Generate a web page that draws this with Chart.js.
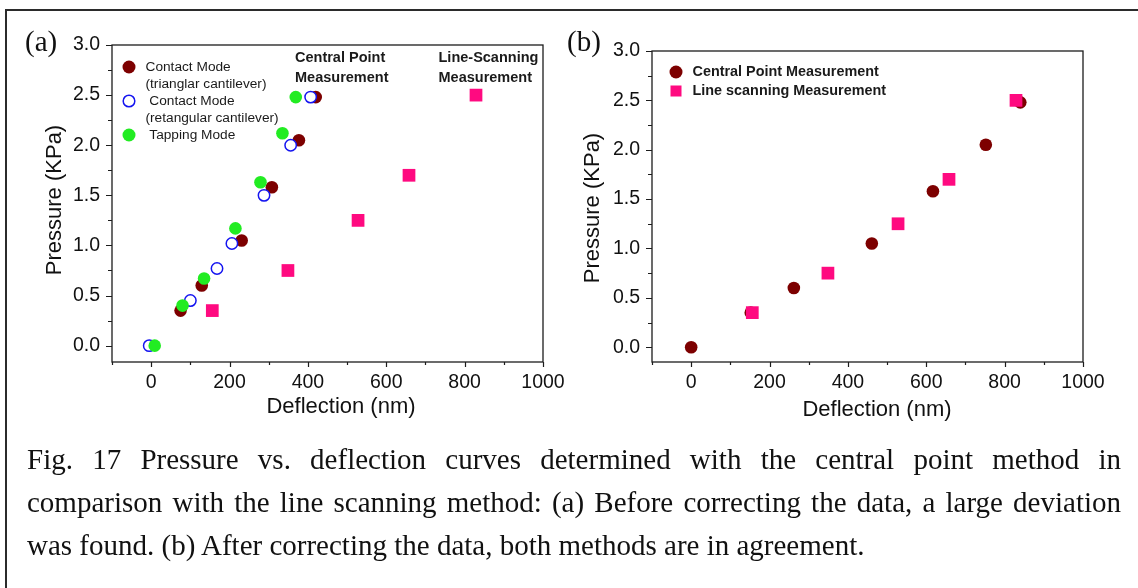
<!DOCTYPE html>
<html>
<head>
<meta charset="utf-8">
<title>Pressure vs. deflection</title>
<script src="https://cdn.jsdelivr.net/npm/chart.js@4.4.1/dist/chart.umd.min.js"></script>
<style>
  html, body { margin: 0; padding: 0; background: #fff; }
  #page { position: relative; width: 1138px; height: 588px; overflow: hidden; background: #fff; }
  #page canvas { position: absolute; left: 0; top: 0; }
  #frame { position: absolute; left: 5px; top: 9px; width: 1160px; height: 620px;
           border-left: 2px solid #2b2b2b; border-top: 2px solid #2b2b2b; }
  #caption { position: absolute; left: 27px; top: 438px; width: 1094px;
             font-family: "Liberation Serif", "Times New Roman", serif;
             font-size: 29px; line-height: 43px; color: #111; }
  #caption .j { text-align: justify; text-align-last: justify; }
</style>
</head>
<body>
<div id="page">
  <div id="frame"></div>
  <canvas id="chartA" width="1138" height="588"></canvas>
  <canvas id="chartB" width="1138" height="588"></canvas>
  <div id="caption">
    <div class="j">Fig. 17 Pressure vs. deflection curves determined with the central point method in</div>
    <div class="j">comparison with the line scanning method: (a) Before correcting the data, a large deviation</div>
    <div>was found. (b) After correcting the data, both methods are in agreement.</div>
  </div>
</div>
<script>
// ---- data: deflection (nm) and pressure (KPa) ----
// (a) before correction
const triangularX = [75, 129, 231, 308, 377, 420];
const triangularY = [0.35, 0.60, 1.05, 1.58, 2.05, 2.48];
const rectangularX = [-5, 100, 168, 206, 288, 356, 407];
const rectangularY = [0.00, 0.45, 0.77, 1.02, 1.50, 2.00, 2.48];
const tappingX = [9, 80, 135, 215, 279, 335, 369];
const tappingY = [0.00, 0.40, 0.67, 1.17, 1.63, 2.12, 2.48];
const lineScanX = [156, 349, 528, 658, 829];
const lineScanY = [0.35, 0.75, 1.25, 1.70, 2.50];
// (b) after correction
const centralX = [0, 152, 262, 461, 617, 752, 840];
const centralY = [0.00, 0.35, 0.60, 1.05, 1.58, 2.05, 2.48];

// ---- axis ticks ----
const xTickValues = [-100, 0, 100, 200, 300, 400, 500, 600, 700, 800, 900, 1000];
const xLabelValues = [0, 200, 400, 600, 800, 1000];
const yTickValues = [0, 0.25, 0.5, 0.75, 1, 1.25, 1.5, 1.75, 2, 2.25, 2.5, 2.75, 3];
const yLabelValues = [0, 0.5, 1, 1.5, 2, 2.5, 3];

// ---- text ----
const xTitle = 'Deflection (nm)';
const yTitle = 'Pressure (KPa)';
const legendA = ['Contact Mode', '(trianglar cantilever)', ' Contact Mode', '(retangular cantilever)', ' Tapping Mode'];
const legendB = ['Central Point Measurement', 'Line scanning Measurement'];
const notesA = ['Central Point', 'Measurement', 'Line-Scanning', 'Measurement'];

const C_DARKRED = '#7d0000';
const C_BLUE = '#1414f0';
const C_GREEN = '#22ec22';
const C_PINK = '#ff0a80';

const SANS = '"Liberation Sans", Arial, sans-serif';
const SERIF = '"Liberation Serif", "Times New Roman", serif';
Chart.defaults.font.family = SANS;

const pts = (xs, ys) => xs.map((x, i) => ({ x: x, y: ys[i] }));
const isXLabel = v => xLabelValues.includes(v);
const isYLabel = v => yLabelValues.some(l => Math.abs(l - v) < 1e-9);

function dot(ctx, x, y, r, fill, stroke, lw) {
  ctx.beginPath();
  ctx.arc(x, y, r, 0, Math.PI * 2);
  ctx.fillStyle = fill;
  ctx.fill();
  if (stroke) { ctx.lineWidth = lw; ctx.strokeStyle = stroke; ctx.stroke(); }
}

// box, tick marks, titles, in-plot legend and notes
const decor = {
  id: 'decor',
  afterDatasetsDraw(chart, args, o) {
    const ctx = chart.ctx, a = chart.chartArea;
    const xs = chart.scales.x, ys = chart.scales.y;
    ctx.save();
    ctx.strokeStyle = '#1c1c1c';
    ctx.lineWidth = 1.3;
    ctx.strokeRect(a.left, a.top, a.right - a.left, a.bottom - a.top);
    ctx.beginPath();
    xTickValues.forEach(v => {
      const px = Math.round(xs.getPixelForValue(v)) + 0.5;
      ctx.moveTo(px, a.bottom);
      ctx.lineTo(px, a.bottom + (isXLabel(v) ? 5 : 3));
    });
    yTickValues.forEach(v => {
      const py = Math.round(ys.getPixelForValue(v)) + 0.5;
      ctx.moveTo(a.left, py);
      ctx.lineTo(a.left - (isYLabel(v) ? 6 : 4), py);
    });
    ctx.lineWidth = 1.2;
    ctx.stroke();

    // axis titles
    ctx.fillStyle = '#111';
    ctx.font = '22px ' + SANS;
    ctx.textAlign = 'center';
    ctx.textBaseline = 'middle';
    ctx.fillText(xTitle, o.xTitle[0], o.xTitle[1]);
    ctx.save();
    ctx.translate(o.yTitle[0], o.yTitle[1]);
    ctx.rotate(-Math.PI / 2);
    ctx.fillText(yTitle, 0, 0);
    ctx.restore();

    // panel letter
    ctx.font = '29px ' + SERIF;
    ctx.textAlign = 'left';
    ctx.fillText(o.letter, o.letterPos[0], o.letterPos[1]);

    if (o.legend) o.legend(ctx);
    ctx.restore();
  }
};

function drawLegendA(ctx) {
  const mx = 129;
  dot(ctx, mx, 67, 6.5, C_DARKRED);
  dot(ctx, mx, 101, 5.8, '#fff', C_BLUE, 1.5);
  dot(ctx, mx, 135, 6.5, C_GREEN);
  ctx.fillStyle = '#1a1a1a';
  ctx.font = '13.7px ' + SANS;
  ctx.textAlign = 'left';
  ctx.textBaseline = 'middle';
  const ys = [67, 84, 101, 118, 135];
  legendA.forEach((t, i) => ctx.fillText(t, 145.5, ys[i]));
  ctx.font = 'bold 14.5px ' + SANS;
  ctx.fillText(notesA[0], 295, 57.5);
  ctx.fillText(notesA[1], 295, 77.5);
  ctx.fillText(notesA[2], 438.5, 57.5);
  ctx.fillText(notesA[3], 438.5, 77.5);
}

function drawLegendB(ctx) {
  const mx = 676;
  dot(ctx, mx, 72, 6.5, C_DARKRED);
  ctx.fillStyle = C_PINK;
  ctx.fillRect(mx - 5.5, 91 - 5.5, 11, 11);
  ctx.fillStyle = '#1a1a1a';
  ctx.font = 'bold 14.4px ' + SANS;
  ctx.textAlign = 'left';
  ctx.textBaseline = 'middle';
  ctx.fillText(legendB[0], 692.5, 72.5);
  ctx.fillText(legendB[1], 692.5, 91.5);
}

function scales(yMin, yWidth) {
  return {
    x: {
      type: 'linear', min: -100, max: 1000,
      grid: { display: false, drawTicks: false },
      border: { display: false },
      afterBuildTicks: s => { s.ticks = xTickValues.map(v => ({ value: v })); },
      afterFit: s => { s.height = 40; },
      ticks: {
        autoSkip: false, maxRotation: 0, padding: 9,
        color: '#111', font: { size: 19.5, family: SANS },
        callback: v => (isXLabel(v) ? String(v) : '')
      }
    },
    y: {
      type: 'linear', min: yMin, max: 3,
      grid: { display: false, drawTicks: false },
      border: { display: false },
      afterBuildTicks: s => { s.ticks = yTickValues.map(v => ({ value: v })); },
      afterFit: s => { s.width = yWidth; },
      ticks: {
        autoSkip: false, padding: 12,
        color: '#111', font: { size: 19.5, family: SANS },
        callback: v => (isYLabel(v) ? v.toFixed(1) : '')
      }
    }
  };
}

const circleSet = (label, data, fill, stroke, bw, r) => ({
  label, data, showLine: false, pointStyle: 'circle',
  pointRadius: r, pointBackgroundColor: fill,
  pointBorderColor: stroke, pointBorderWidth: bw, clip: false
});
const squareSet = (label, data) => ({
  label, data, showLine: false, pointStyle: 'rect',
  pointRadius: 9, pointBackgroundColor: C_PINK,
  pointBorderColor: C_PINK, pointBorderWidth: 0, clip: false
});

// (a) before correction; earlier datasets are painted on top
new Chart(document.getElementById('chartA'), {
  type: 'scatter',
  data: {
    datasets: [
      squareSet('Line-Scanning Measurement', pts(lineScanX, lineScanY)),
      circleSet('Tapping Mode', pts(tappingX, tappingY), C_GREEN, C_GREEN, 0, 6.3),
      circleSet('Contact Mode (retangular cantilever)', pts(rectangularX, rectangularY), '#fff', C_BLUE, 1.5, 5.7),
      circleSet('Contact Mode (trianglar cantilever)', pts(triangularX, triangularY), C_DARKRED, C_DARKRED, 0, 6.3)
    ]
  },
  options: {
    responsive: false, animation: false, events: [],
    layout: { padding: { left: 0, top: 45, right: 595, bottom: 186 } },
    scales: scales(-0.163, 112),
    plugins: {
      legend: { display: false }, tooltip: { enabled: false },
      decor: { xTitle: [341, 407], yTitle: [55, 200], letter: '(a)', letterPos: [25, 43], legend: drawLegendA }
    }
  },
  plugins: [decor]
});

// (b) after correction
new Chart(document.getElementById('chartB'), {
  type: 'scatter',
  data: {
    datasets: [
      squareSet('Line scanning Measurement', pts(lineScanX, lineScanY)),
      circleSet('Central Point Measurement', pts(centralX, centralY), C_DARKRED, C_DARKRED, 0, 6.3)
    ]
  },
  options: {
    responsive: false, animation: false, events: [],
    layout: { padding: { left: 560, top: 51, right: 55, bottom: 186 } },
    scales: scales(-0.15, 92),
    plugins: {
      legend: { display: false }, tooltip: { enabled: false },
      decor: { xTitle: [877, 410], yTitle: [593, 208], letter: '(b)', letterPos: [567, 43], legend: drawLegendB }
    }
  },
  plugins: [decor]
});
</script>
</body>
</html>
